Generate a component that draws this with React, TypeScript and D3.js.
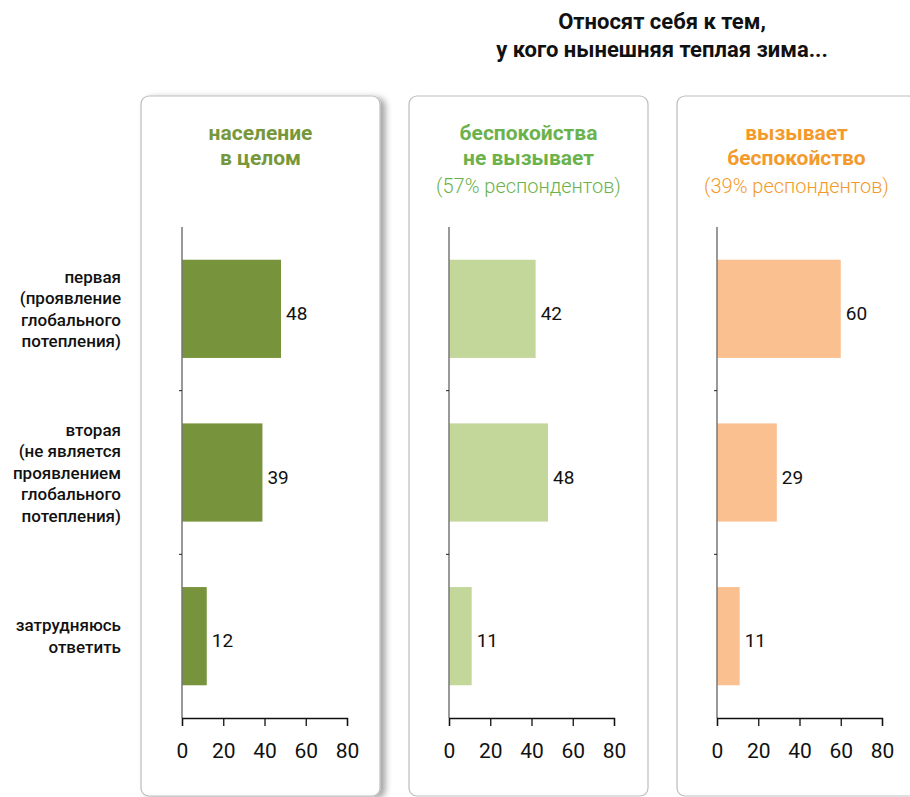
import React, { useEffect, useRef } from "react";
import * as d3 from "d3";

const categories = [
	["первая", "(проявление", "глобального", "потепления)"],
	["вторая", "(не является", "проявлением", "глобального", "потепления)"],
	["затрудняюсь", "ответить"],
];
const titleLines = ["Относят себя к тем,", "у кого нынешняя теплая зима..."];
const panelTitles = [
	["население", "в целом"],
	["беспокойства", "не вызывает"],
	["вызывает", "беспокойство"],
];
const panelSubtitles = ["", "(57% респондентов)", "(39% респондентов)"];
const seriesValues = [
	[48, 39, 12],
	[42, 48, 11],
	[60, 29, 11],
];
const ticks = [0, 20, 40, 60, 80];
const barColors = ["#77933c", "#c4d79b", "#fac090"];
const headColors = ["#76973a", "#6cb24c", "#f39a2b"];

const FONT = "Roboto, 'Open Sans', sans-serif";

const App = () => {
	const svgRef = useRef(null);

	useEffect(() => {
		const svg = d3.select(svgRef.current);
		svg.selectAll("*").remove();

		const defs = svg.append("defs");
		const f = defs.append("filter").attr("id", "shadow").attr("x", "-10%").attr("y", "-10%").attr("width", "130%").attr("height", "130%");
		f.append("feDropShadow").attr("dx", 5).attr("dy", 2).attr("stdDeviation", 3).attr("flood-color", "#000").attr("flood-opacity", 0.35);

		// title
		svg.append("g")
			.selectAll("text")
			.data(titleLines)
			.join("text")
			.attr("x", 662)
			.attr("y", (d, i) => 29 + i * 28)
			.attr("text-anchor", "middle")
			.style("font-family", FONT)
			.style("font-weight", "bold")
			.style("font-size", "22px")
			.attr("fill", "#111")
			.text((d) => d);

		const panelX = [141, 409, 677];
		const panelW = 239;
		const axisStart = [182, 449, 717];
		const axisW = 165;
		const top = 227;
		const bottom = 718;

		const y = d3.scaleBand().domain(d3.range(categories.length)).range([top, bottom]).paddingInner(0.4).paddingOuter(0.2);

		// category labels
		const lab = svg.append("g");
		categories.forEach((lines, ci) => {
			const cy = y(ci) + y.bandwidth() / 2;
			const lh = 21.5;
			lab.append("text")
				.attr("text-anchor", "end")
				.style("font-family", FONT)
				.style("font-size", "17px")
				.style("font-weight", 500)
				.attr("fill", "#111")
				.selectAll("tspan")
				.data(lines)
				.join("tspan")
				.attr("x", 121)
				.attr("y", (d, i) => cy + (i - (lines.length - 1) / 2) * lh + 6)
				.text((d) => d);
		});

		panelX.forEach((px, p) => {
			const g = svg.append("g");
			g.append("rect")
				.attr("x", px)
				.attr("y", 96)
				.attr("width", panelW)
				.attr("height", 700)
				.attr("rx", 8)
				.attr("fill", "#fff")
				.attr("stroke", "#bdbdbd")
				.attr("stroke-width", 1.2)
				.attr("filter", p === 0 ? "url(#shadow)" : null);

			const cx = px + panelW / 2;
			panelTitles[p].forEach((t, i) => {
				g.append("text")
					.attr("x", cx)
					.attr("y", 140 + i * 25)
					.attr("text-anchor", "middle")
					.style("font-family", FONT)
					.style("font-weight", "bold")
					.style("font-size", "21px")
					.attr("fill", headColors[p])
					.text(t);
			});
			if (panelSubtitles[p]) {
				g.append("text")
					.attr("x", cx)
					.attr("y", 193)
					.attr("text-anchor", "middle")
					.style("font-family", FONT)
					.style("font-size", "20px")
					.style("font-weight", 300)
					.attr("fill", headColors[p])
					.text(panelSubtitles[p]);
			}

			const x = d3.scaleLinear().domain([0, 80]).range([axisStart[p], axisStart[p] + axisW]);

			g.selectAll("rect.bar")
				.data(seriesValues[p])
				.join("rect")
				.attr("class", "bar")
				.attr("x", x(0))
				.attr("y", (d, i) => y(i))
				.attr("width", (d) => x(d) - x(0))
				.attr("height", y.bandwidth())
				.attr("fill", barColors[p]);

			g.selectAll("text.val")
				.data(seriesValues[p])
				.join("text")
				.attr("class", "val")
				.attr("x", (d) => x(d) + 5)
				.attr("y", (d, i) => y(i) + y.bandwidth() / 2 + 11)
				.style("font-family", FONT)
				.style("font-size", "19px")
				.attr("fill", "#111")
				.text((d) => d);

			// y axis with category separators
			g.append("line")
				.attr("x1", x(0)).attr("x2", x(0))
				.attr("y1", top).attr("y2", bottom)
				.attr("stroke", "#777").attr("stroke-width", 1.5);
			d3.range(1, categories.length).forEach((i) => {
				const yy = y(i) - (y.step() * y.paddingInner()) / 2;
				g.append("line").attr("x1", x(0) - 3).attr("x2", x(0)).attr("y1", yy).attr("y2", yy).attr("stroke", "#222");
			});

			const ax = g.append("g")
				.attr("transform", `translate(0,${bottom})`)
				.call(d3.axisBottom(x).tickValues(ticks).tickSize(8).tickPadding(17));
			ax.select(".domain").attr("stroke", "#111").attr("stroke-width", 1.3);
			ax.selectAll(".tick line").attr("stroke", "#111").attr("stroke-width", 1.3);
			ax.selectAll(".tick text")
				.style("font-family", FONT)
				.style("font-size", "21px")
				.attr("fill", "#111");
		});
	}, []);

	return (
		<svg ref={svgRef} width={910} height={797} style={{ position: "absolute", left: 0, top: 0, display: "block" }}></svg>
	);
};

export default App;
